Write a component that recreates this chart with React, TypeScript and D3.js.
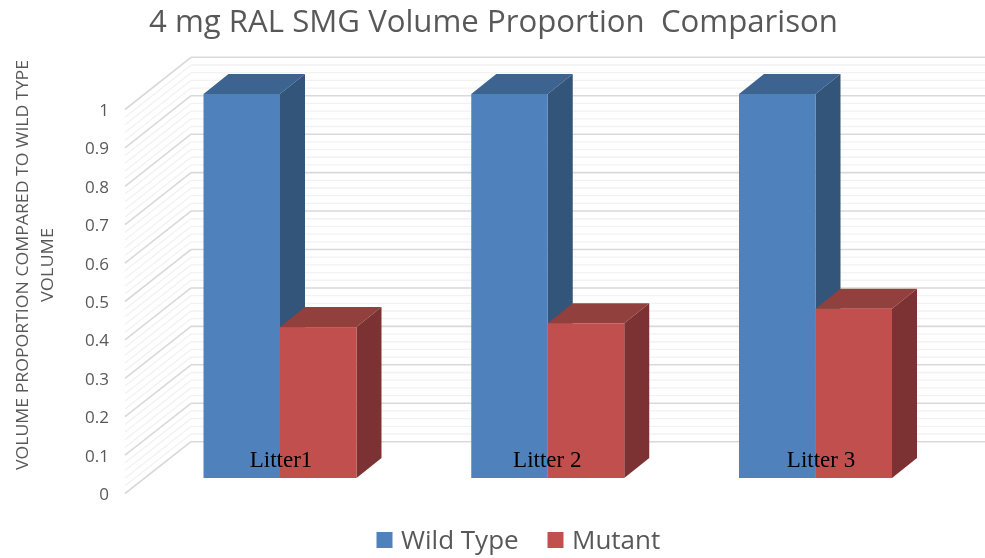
import React from "react";
import * as d3 from "d3";

const categories = ["Litter1", "Litter 2", "Litter 3"];
const seriesNames = ["Wild Type", "Mutant"];
const wildType = [1, 1, 1];
const mutant = [0.393, 0.403, 0.441];
const yTicks = [0, 0.1, 0.2, 0.3, 0.4, 0.5, 0.6, 0.7, 0.8, 0.9, 1];
const minorTicks = d3.range(0, 51).map((i) => i / 50);

const FONT = "'Open Sans', 'Noto Sans', sans-serif";
const colors = {
  blue: { front: "#4f81bd", top: "#3c6390", side: "#325479" },
  red: { front: "#c0504d", top: "#92403d", side: "#7c3230" },
};

export default function App() {
  const y = d3.scaleLinear().domain([0, 1]).range([478, 94]);
  const wallY = d3.scaleLinear().domain([0, 1]).range([441.7, 57.3]);
  const sideFrontY = d3.scaleLinear().domain([0, 1]).range([493.5, 109.5]);
  const x = d3.scalePoint<string>().domain(categories).range([280, 815.5]);
  const labelY = d3.scaleLinear().domain([0, 1]).range([493.5, 109.5]);
  const labelShift = [1, -0.5, 5.5];
  const barW = 76.5;
  const dx = 25;
  const dy = -20;
  const wallLeft = 191;
  const sideLeft = 125;

  const bar = (x0: number, v: number, c: { front: string; top: string; side: string }, key: string) => {
    const x1 = x0 + barW;
    const yt = y(v);
    const yb = y(0);
    return (
      <g key={key}>
        <polygon points={`${x0},${yt} ${x0 + dx},${yt + dy} ${x1 + dx},${yt + dy} ${x1},${yt}`} fill={c.top} />
        <polygon points={`${x1},${yt} ${x1 + dx},${yt + dy} ${x1 + dx},${yb + dy} ${x1},${yb}`} fill={c.side} />
        <rect x={x0} y={yt} width={barW} height={yb - yt} fill={c.front} />
      </g>
    );
  };

  return (
    <svg width={985} height={558} style={{ position: "absolute", left: 0, top: 0, background: "#fff" }}>
      <defs>
        <filter id="soft" x="0" y="0" width="985" height="558" filterUnits="userSpaceOnUse">
          <feGaussianBlur stdDeviation="0.7" />
        </filter>
      </defs>
      <g filter="url(#soft)">
        <rect x={0} y={0} width={985} height={558} fill="#fff" />
        <text x={149} y={32} fontFamily={FONT} fontSize={31} fill="#595959" xmlSpace="preserve" textLength={689} lengthAdjust="spacingAndGlyphs">
          4 mg RAL SMG Volume Proportion  Comparison
        </text>

        {minorTicks.map((t, i) => {
          const major = i % 5 === 0;
          const stroke = major ? "#d9d9d9" : "#f2f2f2";
          const w = major ? 1.6 : 1.3;
          return (
            <g key={i} stroke={stroke} strokeWidth={w}>
              <line x1={wallLeft} x2={985} y1={wallY(t)} y2={wallY(t)} />
              <line x1={sideLeft} x2={wallLeft} y1={sideFrontY(t)} y2={wallY(t)} />
            </g>
          );
        })}

        {yTicks.map((t) => (
          <text key={t} x={109} y={labelY(t) + 6.5} textAnchor="end" fontFamily={FONT} fontSize={17} fill="#595959">
            {t}
          </text>
        ))}

        <text transform="translate(28,265) rotate(-90)" textAnchor="middle" fontFamily={FONT} fontSize={16} fill="#595959" textLength={410} lengthAdjust="spacingAndGlyphs">
          VOLUME PROPORTION COMPARED TO WILD TYPE
        </text>
        <text transform="translate(53,265) rotate(-90)" textAnchor="middle" fontFamily={FONT} fontSize={16} fill="#595959" textLength={74} lengthAdjust="spacingAndGlyphs">
          VOLUME
        </text>

        {categories.map((c, i) => {
          const cx = x(c)!;
          return (
            <g key={c}>
              {bar(cx - barW, wildType[i], colors.blue, "w")}
              {bar(cx, mutant[i], colors.red, "m")}
              <text x={cx + labelShift[i]} y={467} textAnchor="middle" fontFamily="'Liberation Serif', serif" fontSize={23} fill="#000">
                {c}
              </text>
            </g>
          );
        })}

        <rect x={376.5} y={532} width={16} height={16} fill={colors.blue.front} />
        <text x={401} y={549} fontFamily={FONT} fontSize={26} fill="#595959">{seriesNames[0]}</text>
        <rect x={547.5} y={532} width={16} height={16} fill={colors.red.front} />
        <text x={572} y={549} fontFamily={FONT} fontSize={26} fill="#595959">{seriesNames[1]}</text>
      </g>
    </svg>
  );
}
